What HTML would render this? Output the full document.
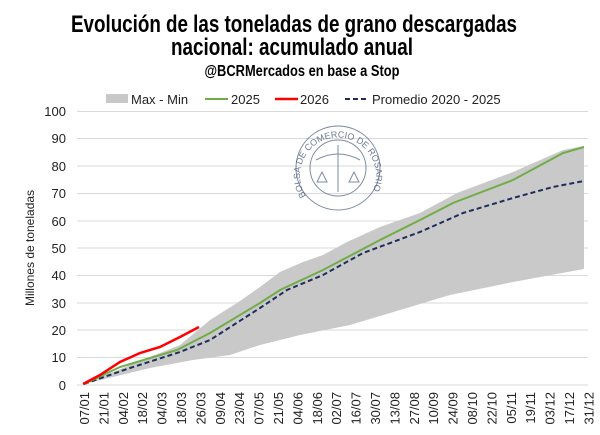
<!DOCTYPE html>
<html><head><meta charset="utf-8"><style>
html,body{margin:0;padding:0;background:#fff;}
svg{display:block;}
</style></head><body>
<svg width="600" height="435" xmlns="http://www.w3.org/2000/svg" font-family="'Liberation Sans', sans-serif">
<rect width="600" height="435" fill="#fff"/>
<g font-family="'Liberation Sans Narrow','Liberation Sans',sans-serif" font-weight="bold" fill="#000" text-anchor="middle">
<text x="294" y="32" font-size="24" textLength="446" lengthAdjust="spacingAndGlyphs">Evolución de las toneladas de grano descargadas</text>
<text x="292" y="55" font-size="24" textLength="242" lengthAdjust="spacingAndGlyphs">nacional: acumulado anual</text>
<text x="302" y="76" font-size="16" textLength="195" lengthAdjust="spacingAndGlyphs">@BCRMercados en base a Stop</text>
</g>
<g font-size="13" fill="#222">
<rect x="106" y="94" width="22" height="9" fill="#c8c8c8"/>
<text x="131" y="104">Max - Min</text>
<line x1="205" y1="99" x2="228" y2="99" stroke="#70ad47" stroke-width="2"/>
<text x="231" y="104">2025</text>
<line x1="275" y1="99" x2="298" y2="99" stroke="#ff0000" stroke-width="2.5"/>
<text x="300" y="104">2026</text>
<line x1="345" y1="99" x2="368" y2="99" stroke="#1f2d5c" stroke-width="2" stroke-dasharray="5,3"/>
<text x="372" y="104">Promedio 2020 - 2025</text>
</g>
<g stroke="#d9d9d9" stroke-width="1">
<line x1="77" x2="588" y1="111.5" y2="111.5"/>
<line x1="77" x2="588" y1="138.5" y2="138.5"/>
<line x1="77" x2="588" y1="166" y2="166"/>
<line x1="77" x2="588" y1="193.5" y2="193.5"/>
<line x1="77" x2="588" y1="221" y2="221"/>
<line x1="77" x2="588" y1="248" y2="248"/>
<line x1="77" x2="588" y1="275.5" y2="275.5"/>
<line x1="77" x2="588" y1="303" y2="303"/>
<line x1="77" x2="588" y1="330" y2="330"/>
<line x1="77" x2="588" y1="357.5" y2="357.5"/>
<line x1="77" x2="588" y1="385" y2="385"/>
</g>
<g font-size="13" fill="#222" text-anchor="end">
<text x="66" y="116">100</text><text x="66" y="143">90</text><text x="66" y="171">80</text>
<text x="66" y="198">70</text><text x="66" y="226">60</text><text x="66" y="253">50</text>
<text x="66" y="280">40</text><text x="66" y="308">30</text><text x="66" y="335">20</text>
<text x="66" y="362">10</text><text x="66" y="390">0</text>
</g>
<text transform="translate(34,248) rotate(-90)" font-size="12" fill="#222" text-anchor="middle">Millones de toneladas</text>
<defs><path id="lc" d="M306,196 A38,38 0 1 1 370,196"/></defs>
<g opacity="0.7" stroke="#4a5a7a" fill="none">
<circle cx="338" cy="168" r="42"/>
<circle cx="338" cy="168" r="28"/>
<line x1="338" y1="145" x2="338" y2="192"/>
<path d="M316 160 Q338 148 360 160"/>
<path d="M322 172 l-5 10 h10 z M354 172 l-5 10 h10 z"/>
</g>
<text font-size="9" fill="#4a5a7a" opacity="0.8"><textPath href="#lc">BOLSA DE COMERCIO DE ROSARIO</textPath></text>
<polygon fill="#c9c9c9" points="84,384 130,365 180,345 210,320 237,303 260,287 280,272 303,262 323,255 347,242 380,227 420,213 457,193 513,172 563,150 584,146 584,269 513,282 450,295 400,310 350,325 300,335 260,345 230,355 193,360 150,368 84,384"/>
<polyline fill="none" stroke="#1f2d5c" stroke-width="2" stroke-dasharray="5,3" points="84,384 130,368 180,352 210,340 260,308 287,290 323,275 363,253 420,232 463,213 513,198 553,187 584,181"/>
<polyline fill="none" stroke="#70ad47" stroke-width="2" points="84,384 120,367 177,350 210,333 260,303 280,290 323,270 380,240 420,220 453,203 513,180 563,153 584,147"/>
<polyline fill="none" stroke="#ff0000" stroke-width="2.5" points="83,384 100,375 120,362 140,353 160,347 180,337 199,327"/>
<g font-size="13" fill="#222" text-anchor="end">
<text transform="translate(89,392) rotate(-90)">07/01</text>
<text transform="translate(108.4,392) rotate(-90)">21/01</text>
<text transform="translate(127.8,392) rotate(-90)">04/02</text>
<text transform="translate(147.2,392) rotate(-90)">18/02</text>
<text transform="translate(166.6,392) rotate(-90)">04/03</text>
<text transform="translate(186,392) rotate(-90)">18/03</text>
<text transform="translate(205.4,392) rotate(-90)">26/03</text>
<text transform="translate(224.8,392) rotate(-90)">09/04</text>
<text transform="translate(244.2,392) rotate(-90)">23/04</text>
<text transform="translate(263.6,392) rotate(-90)">07/05</text>
<text transform="translate(283,392) rotate(-90)">21/05</text>
<text transform="translate(302.4,392) rotate(-90)">04/06</text>
<text transform="translate(321.8,392) rotate(-90)">18/06</text>
<text transform="translate(341.2,392) rotate(-90)">02/07</text>
<text transform="translate(360.6,392) rotate(-90)">16/07</text>
<text transform="translate(380,392) rotate(-90)">30/07</text>
<text transform="translate(399.4,392) rotate(-90)">13/08</text>
<text transform="translate(418.8,392) rotate(-90)">27/08</text>
<text transform="translate(438.2,392) rotate(-90)">10/09</text>
<text transform="translate(457.6,392) rotate(-90)">24/09</text>
<text transform="translate(477,392) rotate(-90)">08/10</text>
<text transform="translate(496.4,392) rotate(-90)">22/10</text>
<text transform="translate(515.8,392) rotate(-90)">05/11</text>
<text transform="translate(535.2,392) rotate(-90)">19/11</text>
<text transform="translate(554.6,392) rotate(-90)">03/12</text>
<text transform="translate(574,392) rotate(-90)">17/12</text>
<text transform="translate(593.4,392) rotate(-90)">31/12</text>
</g>
</svg>
</body></html>
